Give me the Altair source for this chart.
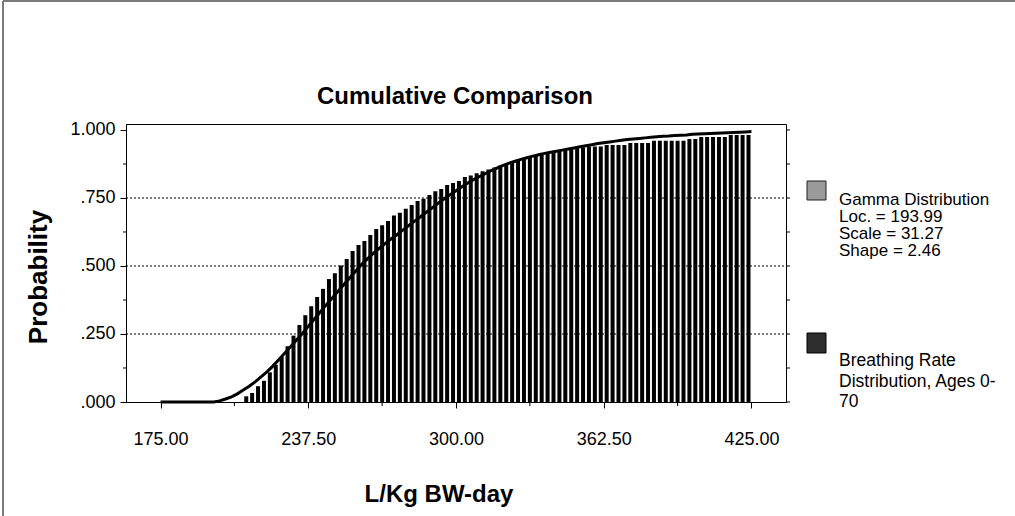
import altair as alt
import pandas as pd

# ---------------- data ----------------
title_text = "Cumulative Comparison"
x_title = "L/Kg BW-day"
y_title = "Probability"

x_major = [175.0, 237.5, 300.0, 362.5, 425.0]
x_minor = [206.25, 268.75, 331.25, 393.75]
y_major = [0.0, 0.25, 0.5, 0.75, 1.0]
y_minor = [0.125, 0.375, 0.625, 0.875]
grid_levels = [0.25, 0.5, 0.75]

# empirical cumulative bars (bin centres 211.25 ... 423.75, step 2.5)
bar_centers = [176.25 + 2.5 * k for k in range(14, 100)]
bar_probs = [
    0.021, 0.033, 0.058, 0.078, 0.109, 0.137, 0.165, 0.205, 0.244, 0.283,
    0.319, 0.352, 0.386, 0.416, 0.452, 0.473, 0.502, 0.526, 0.555, 0.577,
    0.592, 0.614, 0.636, 0.650, 0.665, 0.686, 0.696, 0.710, 0.724, 0.739,
    0.747, 0.761, 0.775, 0.783, 0.798, 0.805, 0.812, 0.827, 0.833, 0.841,
    0.848, 0.855, 0.862, 0.869, 0.876, 0.884, 0.890, 0.895, 0.900, 0.904,
    0.909, 0.914, 0.919, 0.923, 0.927, 0.930, 0.933, 0.936, 0.939, 0.939,
    0.939, 0.945, 0.945, 0.945, 0.945, 0.952, 0.952, 0.952, 0.952, 0.960,
    0.960, 0.960, 0.960, 0.960, 0.960, 0.967, 0.967, 0.974, 0.974, 0.974,
    0.974, 0.974, 0.982, 0.982, 0.982, 0.982,
]

# fitted gamma cumulative curve (read at 175, 177.5, ..., 425)
line_x = [175.0 + 2.5 * j for j in range(101)]
line_probs = [
    0, 0, 0, 0, 0, 0, 0, 0, 0, 0,
    0.004, 0.011, 0.019, 0.030, 0.044, 0.058, 0.074, 0.092, 0.111, 0.132,
    0.155, 0.179, 0.203, 0.228, 0.252, 0.278, 0.304, 0.330, 0.356, 0.381,
    0.406, 0.431, 0.456, 0.481, 0.505, 0.526, 0.546, 0.565, 0.582, 0.599,
    0.615, 0.632, 0.649, 0.665, 0.681, 0.698, 0.714, 0.731, 0.747, 0.762,
    0.777, 0.791, 0.805, 0.818, 0.829, 0.840, 0.851, 0.861, 0.870, 0.878,
    0.885, 0.892, 0.898, 0.904, 0.909, 0.914, 0.918, 0.922, 0.926, 0.930,
    0.934, 0.938, 0.942, 0.946, 0.950, 0.953, 0.956, 0.959, 0.962, 0.965,
    0.967, 0.969, 0.971, 0.973, 0.975, 0.977, 0.978, 0.980, 0.981, 0.982,
    0.984, 0.985, 0.986, 0.987, 0.988, 0.989, 0.990, 0.991, 0.992, 0.993,
    0.994,
]

legend_gamma = ["Gamma Distribution", "Loc. = 193.99", "Scale = 31.27", "Shape = 2.46"]
legend_breath = ["Breathing Rate", "Distribution, Ages 0-", "70"]

# ---------------- layout ----------------
L, T = 126, 124          # plot origin in page pixels
W, H = 660, 278          # plot size
FONT = "Liberation Sans"

xs = alt.Scale(domain=[162.5, 437.5], nice=False, zero=False)
ys = alt.Scale(domain=[0, 1.022], nice=False, zero=False)

x_axis = alt.Axis(
    orient="bottom", values=x_major, format=".2f", tickSize=6, labelPadding=22,
    labelFontSize=18, labelFont=FONT, labelColor="black", tickColor="black",
    domainColor="black", grid=False, title=None, labelFlush=False, labelOverlap=False,
)
y_axis = alt.Axis(
    orient="left", values=y_major,
    labelExpr="replace(format(datum.value, '.3f'), '0.', '.')",
    tickSize=6, labelPadding=5, labelFontSize=18, labelFont=FONT,
    labelColor="black", tickColor="black", domainColor="black",
    grid=False, title=None, labelFlush=False, labelOverlap=False,
)

bars_df = pd.DataFrame({"x": bar_centers, "p": bar_probs})
line_df = pd.DataFrame({"x": line_x, "p": line_probs})
grid_df = pd.DataFrame({"g": grid_levels})
yminor_df = pd.DataFrame({"m": y_minor})
yall_df = pd.DataFrame({"m": sorted(y_major + y_minor)})
xminor_df = pd.DataFrame({"mx": x_minor})
one = pd.DataFrame({"a": [0]})

bars = alt.Chart(bars_df).mark_bar(color="black", size=4, orient="vertical").encode(
    x=alt.X("x:Q", scale=xs, axis=x_axis),
    y=alt.Y("p:Q", scale=ys, axis=y_axis, stack=None),
)

grid = alt.Chart(grid_df).mark_rule(color="black", strokeWidth=1, strokeDash=[2, 2]).encode(
    y=alt.Y("g:Q", scale=ys, axis=None), x=alt.value(0), x2=alt.value(W)
)

line = alt.Chart(line_df).mark_line(color="black", strokeWidth=3).encode(
    x=alt.X("x:Q", scale=xs, axis=None),
    y=alt.Y("p:Q", scale=ys, axis=None),
)

ytick_minor = alt.Chart(yminor_df).mark_rule(color="black").encode(
    y=alt.Y("m:Q", scale=ys, axis=None), x=alt.value(-3), x2=alt.value(0)
)
ytick_right = alt.Chart(yall_df).mark_rule(color="black").encode(
    y=alt.Y("m:Q", scale=ys, axis=None), x=alt.value(W), x2=alt.value(W + 4)
)
xtick_minor = alt.Chart(xminor_df).mark_rule(color="black").encode(
    x=alt.X("mx:Q", scale=xs, axis=None), y=alt.value(H), y2=alt.value(H + 4)
)

# outer frame (top and left edges of the picture)
frame_top = alt.Chart(one).mark_rule(color="#7a7a7a", strokeWidth=2).encode(
    x=alt.value(3 - L), x2=alt.value(1015 - L), y=alt.value(1 - T)
)
frame_left = alt.Chart(one).mark_rule(color="#7a7a7a", strokeWidth=2).encode(
    x=alt.value(3 - L), y=alt.value(1 - T), y2=alt.value(516 - T)
)

def txt(text, x, y, size, weight="normal", align="left", baseline="alphabetic", angle=0):
    return alt.Chart(one).mark_text(
        font=FONT, fontSize=size, fontWeight=weight, align=align,
        baseline=baseline, angle=angle, color="black",
    ).encode(x=alt.value(x), y=alt.value(y), text=alt.value(text))

title = txt(title_text, 455 - L, 104 - T, 24, "bold", "center")
xlab = txt(x_title, 439 - L, 502 - T, 24, "bold", "center")
ylab = txt(y_title, 39 - L, 277 - T, 26, "bold", "center", "middle", 270)

legend_layers = []
sw1 = alt.Chart(one).mark_rect(color="#9a9a9a", stroke="#222222", strokeWidth=1).encode(
    x=alt.value(807 - L), x2=alt.value(826 - L), y=alt.value(181 - T), y2=alt.value(200 - T)
)
sw2 = alt.Chart(one).mark_rect(color="#2e2e2e", stroke="#000000", strokeWidth=1).encode(
    x=alt.value(807 - L), x2=alt.value(826 - L), y=alt.value(333 - T), y2=alt.value(353 - T)
)
legend_layers += [sw1, sw2]
gamma_baselines = [205, 222, 239, 256]
for s, b in zip(legend_gamma, gamma_baselines):
    legend_layers.append(txt(s, 839 - L, b - T, 17))
breath_baselines = [366, 387, 407]
for s, b in zip(legend_breath, breath_baselines):
    legend_layers.append(txt(s, 839 - L, b - T, 17.5))

chart = alt.layer(
    bars, grid, line, ytick_minor, ytick_right, xtick_minor,
    frame_top, frame_left, title, xlab, ylab, *legend_layers,
).resolve_axis(x="independent", y="independent").properties(
    width=W, height=H,
    autosize=alt.AutoSizeParams(type="none"),
    padding={"left": L, "top": T, "right": 1015 - L - W, "bottom": 516 - T - H},
    background="white",
).configure_view(stroke="black", strokeWidth=1)

chart.save("out.html", embed_options={"renderer": "svg", "actions": False})
